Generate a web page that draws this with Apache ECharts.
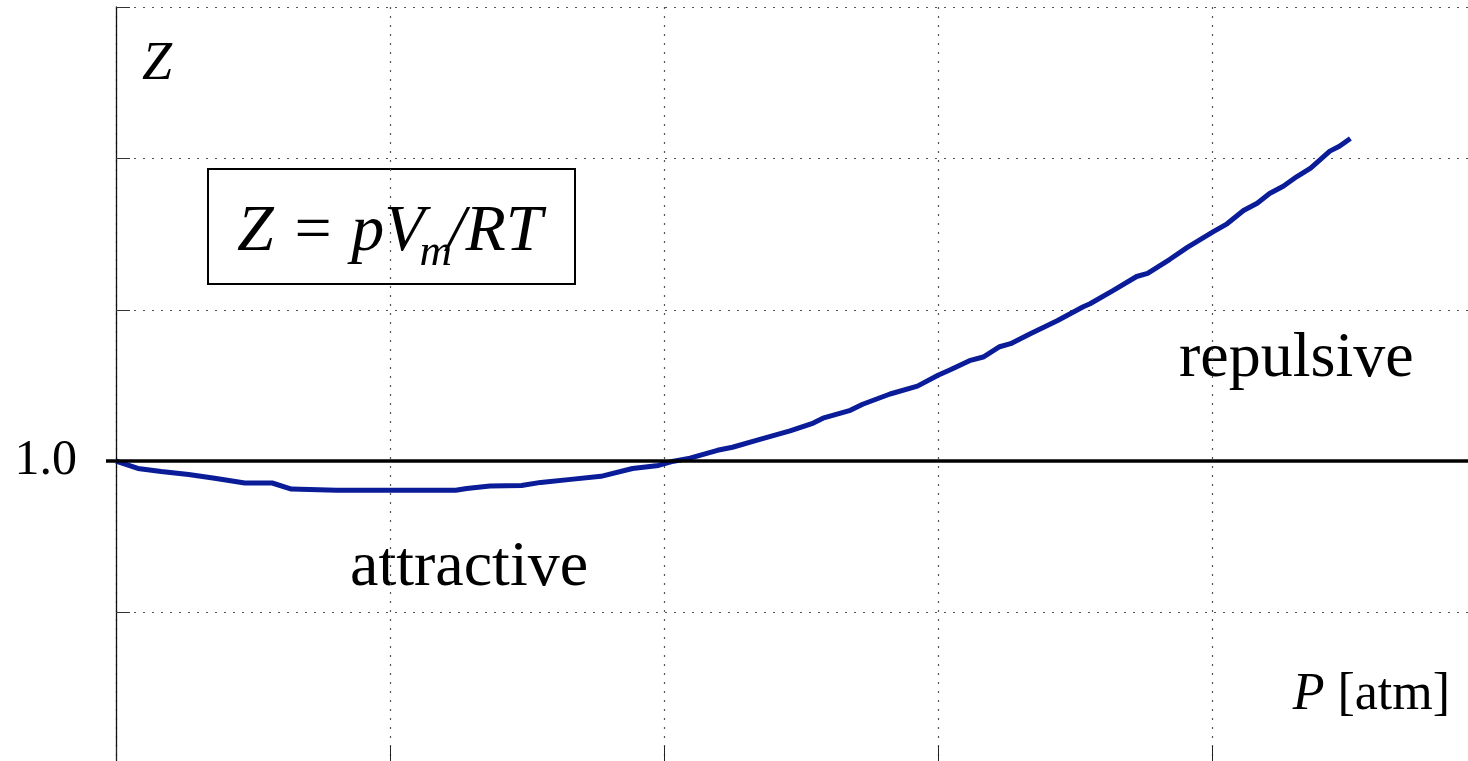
<!DOCTYPE html>
<html>
<head>
<meta charset="utf-8">
<script src="https://cdn.jsdelivr.net/npm/echarts@6/dist/echarts.min.js"></script>
<style>
  html, body { margin: 0; padding: 0; background: #fff; }
  #chart { width: 1468px; height: 761px; }
</style>
</head>
<body>
<div id="chart"></div>
<script>
// Compressibility factor Z of a real gas against pressure (atm)
const pressure = [0, 16, 33, 53, 72, 94, 114, 128, 161, 207,
  248, 256, 273, 296, 310, 332, 354, 377, 396, 407,
  419, 439, 450, 470, 492, 509, 516, 536, 545, 565,
  585, 600, 609, 623, 633, 645, 653, 667, 687, 706,
  711, 728, 745, 753, 769, 782, 801, 811, 823, 833,
  842, 852, 862, 872, 886, 893, 901];
const zFactor = [1.000, 0.988, 0.983, 0.978, 0.972, 0.964, 0.964, 0.954, 0.952, 0.952,
  0.952, 0.955, 0.959, 0.960, 0.965, 0.970, 0.975, 0.988, 0.993, 1.000,
  1.005, 1.018, 1.023, 1.036, 1.050, 1.063, 1.071, 1.084, 1.094, 1.111,
  1.124, 1.142, 1.151, 1.166, 1.172, 1.189, 1.194, 1.210, 1.232, 1.255,
  1.260, 1.282, 1.305, 1.310, 1.333, 1.353, 1.379, 1.392, 1.414, 1.426,
  1.442, 1.454, 1.470, 1.484, 1.512, 1.520, 1.533];

// Ideal-gas reference level and the only labelled y tick
const idealZ = 1.0;
const yTickValues = [1.0];
const yTickLabels = ['1.0'];

const SERIF = '"Liberation Serif", "Times New Roman", serif';
const gridDots = { color: '#555', width: 1.2, type: [2, 7] };

// Pieces of the boxed definition Z = pV_m/RT, laid out with measured widths
const measureCtx = document.createElement('canvas').getContext('2d');
function textWidth(str, font) { measureCtx.font = font; return measureCtx.measureText(str).width; }
const fMain = 'italic 66px ' + SERIF;
const fSub = 'italic 45px ' + SERIF;
const eqLeft = 237, eqBase = 255, subBase = 268;
const wHead = textWidth('Z = pV', fMain);
const wSub = textWidth('m', fSub);
const subLeft = eqLeft + wHead - 5;
const tailLeft = subLeft + wSub - 5;

const chart = echarts.init(document.getElementById('chart'), null, { renderer: 'canvas' });

chart.setOption({
  animation: false,
  backgroundColor: '#fff',
  // the plot runs a little past the right and bottom edges of the canvas
  grid: { left: 116, top: 7, width: 1370, height: 757, containLabel: false, outerBoundsMode: 'none' },
  xAxis: {
    type: 'value', min: 0, max: 1000, interval: 200,
    axisLine: { show: false },
    axisTick: { show: true, inside: true, length: 18, lineStyle: { color: '#222', width: 1 } },
    axisLabel: { show: false },
    splitLine: { show: true, lineStyle: gridDots }
  },
  yAxis: [{
    type: 'value', min: 0.5, max: 1.75, interval: 0.25,
    axisLine: { show: true, lineStyle: { color: '#111', width: 1.3 } },
    axisTick: { show: true, inside: true, length: 14, lineStyle: { color: '#333', width: 1 } },
    axisLabel: {
      show: true, margin: 39, fontFamily: SERIF, fontSize: 50, color: '#000',
      formatter: v => {
        const i = yTickValues.findIndex(t => Math.abs(t - v) < 1e-9);
        return i >= 0 ? yTickLabels[i] : '';
      }
    },
    splitLine: { show: true, lineStyle: gridDots }
  }, {
    // short outer stub of the Z = 1 reference line
    type: 'value', min: 0.5, max: 1.75, interval: 0.25, position: 'left',
    axisLine: { show: false },
    axisTick: { show: true, inside: false, length: 10, customValues: yTickValues,
      lineStyle: { color: '#000', width: 3.5 } },
    axisLabel: { show: false },
    splitLine: { show: false }
  }],
  series: [{
    type: 'line',
    data: pressure.map((p, i) => [p, zFactor[i]]),
    showSymbol: false,
    lineStyle: { color: '#0a1c98', width: 5 },
    markLine: {
      silent: true, symbol: 'none', z: 10,
      label: { show: false },
      lineStyle: { color: '#000', width: 3.5, type: 'solid' },
      data: [{ yAxis: idealZ }]
    }
  }],
  graphic: [
    { type: 'text', x: 142, y: 65,
      style: { text: 'Z', font: 'italic 54px ' + SERIF, fill: '#000', align: 'left', verticalAlign: 'middle' } },
    { type: 'text', x: 1450, y: 695,
      style: { text: '{i|P} [atm]', font: '52px ' + SERIF, fill: '#000', align: 'right', verticalAlign: 'middle',
        rich: { i: { fontStyle: 'italic', fontFamily: SERIF, fontSize: 52 } } } },
    { type: 'text', x: 350, y: 568,
      style: { text: 'attractive', font: '64px ' + SERIF, fill: '#000', align: 'left', verticalAlign: 'middle' } },
    { type: 'text', x: 1179, y: 359,
      style: { text: 'repulsive', font: '64px ' + SERIF, fill: '#000', align: 'left', verticalAlign: 'middle' } },
    { type: 'group', children: [
      { type: 'rect', shape: { x: 208, y: 169, width: 367, height: 115 },
        style: { fill: '#fff', stroke: '#000', lineWidth: 2 } },
      { type: 'text', x: eqLeft, y: eqBase - 0.3375 * 66,
        style: { text: 'Z = pV', font: fMain, fill: '#000', align: 'left', verticalAlign: 'middle' } },
      { type: 'text', x: subLeft, y: subBase - 0.3375 * 45,
        style: { text: 'm', font: fSub, fill: '#000', align: 'left', verticalAlign: 'middle' } },
      { type: 'text', x: tailLeft, y: eqBase - 0.3375 * 66,
        style: { text: '/RT', font: fMain, fill: '#000', align: 'left', verticalAlign: 'middle' } }
    ] }
  ]
});
</script>
</body>
</html>
